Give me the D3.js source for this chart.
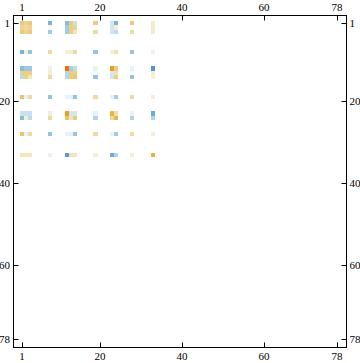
<!DOCTYPE html>
<html><head><meta charset="utf-8">
<script src="https://cdnjs.cloudflare.com/ajax/libs/d3/7.8.5/d3.min.js"></script>
<style>html,body{margin:0;padding:0;background:#fff}svg{display:block}text{font-family:"Liberation Serif",serif;font-size:11px;fill:#000}</style>
</head><body><svg id="c" width="360" height="363"></svg>
<script>
const indices=[1,2,3,8,12,13,14,19,23,24,28,33];
const tickValues=[1,20,40,60,78];
const row1=[.45,.35,.45,-.55,-.5,.45,-.25,.45,-.2,-.55,.45,.15];
const row2=[.35,.3,.35,.05,-.4,.4,.35,.01,-.2,.12,.01,.13];
const row3=[.45,.35,.45,-.4,-.4,.4,.2,.3,-.2,-.3,.3,.15];
const row8=[-.55,.1,-.45,.3,.1,.12,.3,-.45,.1,.25,-.45,-.1];
const row12=[-.5,-.42,-.42,.1,1,-.38,-.28,-.1,.8,.42,-.1,-.8];
const row13=[.4,.4,.4,.1,-.33,.42,.42,-.03,-.17,.2,-.03,.1];
const row14=[-.3,.38,.2,.3,-.33,.42,.5,-.45,-.2,.42,-.45,.1];
const row19=[.5,-.1,.3,-.45,-.1,-.1,-.45,.3,-.1,-.4,.3,.1];
const row23=[-.25,-.25,-.25,.1,.8,-.2,-.2,-.1,.65,.25,-.1,-.6];
const row24=[-.5,.12,-.3,.3,.5,.2,.45,-.35,.3,.6,-.35,-.35];
const row28=[.5,-.1,.3,-.45,-.1,-.1,-.45,.3,-.1,-.4,.3,.1];
const row33=[.2,.2,.2,-.1,-.75,.2,.2,.1,-.6,-.35,.1,.65];
const rows=[row1,row2,row3,row8,row12,row13,row14,row19,row23,row24,row28,row33];
const colorDomain=[-.8,-.6,-.5,-.4,-.3,-.2,-.1,0,.1,.2,.3,.4,.5,.6,.8,1];
const colorRange=["#4f95d6","#6fadd0","#87bcd8","#a3cbe2","#bcdcec","#d0e6f1","#e8f3f8","#ffffff","#f4f0d8","#f2e5bd","#eed9a0","#ecce85","#e9c570","#e8b84a","#e8a020","#ff6a00"];
const color=d3.scaleLinear().domain(colorDomain).range(colorRange);
const x=d3.scaleLinear().domain([.5,78.5]).range([19.6,19.6+78*4.1]);
const y=d3.scaleLinear().domain([.5,78.5]).range([21.3,21.3+78*4.1]);
const svg=d3.select("#c");
const cells=rows.flatMap((r,i)=>r.map((v,j)=>({r:indices[i],c:indices[j],v})));
svg.append("g").attr("shape-rendering","crispEdges").selectAll("rect").data(cells).join("rect")
 .attr("x",d=>Math.round(x(d.c-.5))).attr("y",d=>Math.round(y(d.r-.5)))
 .attr("width",d=>Math.round(x(d.c+.5))-Math.round(x(d.c-.5)))
 .attr("height",d=>Math.round(y(d.r+.5))-Math.round(y(d.r-.5)))
 .attr("fill",d=>color(d.v));
const L=13.5,T=15.5,R=346.5,B=347.5;
svg.append("rect").attr("x",L).attr("y",T).attr("width",R-L).attr("height",B-T).attr("fill","none").attr("stroke","#000");
const tx=v=>Math.round(x(v))+.5, ty=v=>Math.round(y(v))+.5;
const g=svg.append("g").attr("stroke","#000");
tickValues.forEach(v=>{
 g.append("line").attr("x1",tx(v)).attr("x2",tx(v)).attr("y1",T).attr("y2",T+5);
 g.append("line").attr("x1",tx(v)).attr("x2",tx(v)).attr("y1",B).attr("y2",B-5);
 g.append("line").attr("y1",ty(v)).attr("y2",ty(v)).attr("x1",L).attr("x2",L+5);
 g.append("line").attr("y1",ty(v)).attr("y2",ty(v)).attr("x1",R).attr("x2",R-5);
 svg.append("text").attr("x",tx(v)-.5).attr("y",11).attr("text-anchor","middle").text(v);
 svg.append("text").attr("x",tx(v)-.5).attr("y",360).attr("text-anchor","middle").text(v);
 svg.append("text").attr("x",10).attr("y",ty(v)+3.5).attr("text-anchor","end").text(v);
 svg.append("text").attr("x",349.5).attr("y",ty(v)+3.5).attr("text-anchor","start").text(v);
});
</script></body></html>
